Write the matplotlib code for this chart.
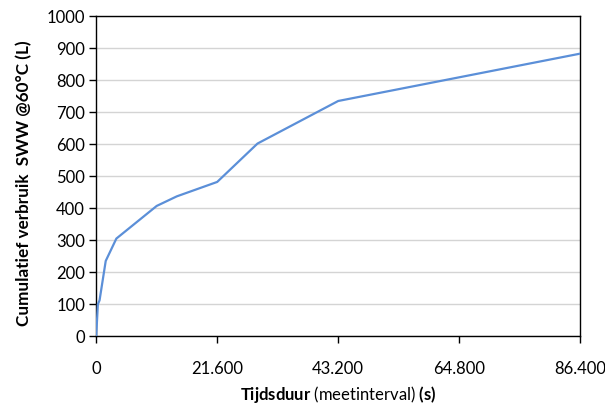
import matplotlib
matplotlib.use("Agg")
import matplotlib.pyplot as plt

# Cumulative hot tap water usage over one day
tijd_s = [0, 300, 600, 1700, 3600, 10800, 14400, 21600, 28800, 43200, 86400]
verbruik_l = [0, 100, 112, 235, 305, 407, 437, 482, 602, 735, 883]

x_ticks = [0, 21600, 43200, 64800, 86400]
x_tick_labels = ["0", "21.600", "43.200", "64.800", "86.400"]
y_ticks = list(range(0, 1001, 100))

plt.rcParams["font.family"] = ["Lato", "DejaVu Sans"]
plt.rcParams["mathtext.fontset"] = "custom"
plt.rcParams["mathtext.rm"] = "Lato"
plt.rcParams["mathtext.bf"] = "Lato:bold"

fig = plt.figure(figsize=(6.05, 4.05), dpi=100)
ax = fig.add_axes([0.159, 0.170, 0.800, 0.790])

ax.plot(tijd_s, verbruik_l, color="#5B8FD8", linewidth=1.6, zorder=3)

ax.set_xlim(0, 86400)
ax.set_ylim(0, 1000)
ax.set_xticks(x_ticks)
ax.set_xticklabels(x_tick_labels)
ax.set_yticks(y_ticks)

ax.grid(axis="y", color="#d4d4d4", linewidth=1.0)
ax.set_axisbelow(True)
for side in ax.spines.values():
    side.set_color("black")
    side.set_linewidth(1.0)

ax.tick_params(axis="both", direction="out", length=5, width=1.0,
               labelsize=12, colors="black")
ax.tick_params(axis="x", pad=13)
ax.tick_params(axis="y", pad=3)

ax.set_xlabel(r"$\bf{Tijdsduur}$ (meetinterval) $\bf{(s)}$", fontsize=12, labelpad=5)
ax.set_ylabel("Cumulatief verbruik  SWW @60°C (L)", fontsize=12.3,
              fontweight="bold")
ax.yaxis.set_label_coords(-0.132, 0.478)

fig.savefig("out.png", dpi=100)
